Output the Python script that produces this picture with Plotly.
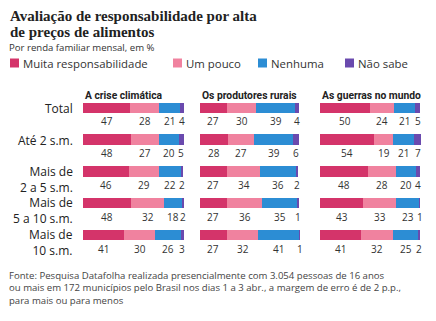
import plotly.graph_objects as go

W, H = 436, 321

rows = ["Total", "Até 2 s.m.", "Mais de<br>2 a 5 s.m.", "Mais de<br>5 a 10 s.m.", "Mais de<br>10 s.m."]
columns = ["A crise climática", "Os produtores rurais", "As guerras no mundo"]
categories = ["Muita responsabilidade", "Um pouco", "Nenhuma", "Não sabe"]
colors = ["#d4346a", "#f0829f", "#2c8dd4", "#6a4aae"]

crise_muita = [47, 48, 46, 48, 41]
crise_pouco = [28, 27, 29, 32, 30]
crise_nenhuma = [21, 20, 22, 18, 26]
crise_naosabe = [4, 5, 2, 2, 3]

prod_muita = [27, 28, 27, 27, 27]
prod_pouco = [30, 27, 34, 36, 32]
prod_nenhuma = [39, 39, 36, 35, 41]
prod_naosabe = [4, 6, 2, 1, 1]

guerra_muita = [50, 54, 48, 43, 41]
guerra_pouco = [24, 19, 28, 33, 32]
guerra_nenhuma = [21, 21, 20, 23, 25]
guerra_naosabe = [5, 7, 4, 1, 2]

col_data = [
    [crise_muita, crise_pouco, crise_nenhuma, crise_naosabe],
    [prod_muita, prod_pouco, prod_nenhuma, prod_naosabe],
    [guerra_muita, guerra_pouco, guerra_nenhuma, guerra_naosabe],
]


def px(x):
    return x / W


def py(y):
    return 1 - y / H


col_domains = [(83, 184), (200, 300), (320, 421)]
y_top, y_bot = 92.1, 250.9
row_idx = list(range(len(rows)))

fig = go.Figure()
xa_names = ["x", "x2", "x3"]
col_max = []
for c, series in enumerate(col_data):
    totals = [sum(s[r] for s in series) for r in row_idx]
    col_max.append(max(100, max(totals)))
    for k, vals in enumerate(series):
        fig.add_trace(go.Bar(
            x=vals, y=row_idx, orientation="h", name=categories[k],
            marker=dict(color=colors[k], line=dict(width=0)),
            width=0.33, xaxis=xa_names[c], yaxis="y", showlegend=False,
            hoverinfo="skip",
        ))

annotations = []
# value labels under bars
for c, series in enumerate(col_data):
    xref = xa_names[c]
    for r in row_idx:
        cum = 0
        for k, vals in enumerate(series):
            v = vals[r]
            annotations.append(dict(
                x=cum + v / 2, y=r, xref=xref, yref="y", text=str(v),
                showarrow=False, yshift=-13.5, xanchor="center", yanchor="middle",
                font=dict(family="Open Sans", size=10, color="#333333"),
            ))
            cum += v

# column headers
for c, name in enumerate(columns):
    annotations.append(dict(
        x=px(col_domains[c][0]), y=py(95.5), xref="paper", yref="paper",
        text="<b>" + name + "</b>", showarrow=False, xanchor="left", yanchor="middle",
        font=dict(family="Roboto", size=10.3, color="#222222"),
    ))

# row labels
for r, lab in enumerate(rows):
    if "<br>" in lab:
        annotations.append(dict(
            x=px(75), y=r, xref="paper", yref="y", text=lab, showarrow=False,
            xanchor="right", yanchor="top", align="right", yshift=11,
            font=dict(family="Open Sans", size=12, color="#222222"),
        ))
    else:
        annotations.append(dict(
            x=px(75), y=r, xref="paper", yref="y", text=lab, showarrow=False,
            xanchor="right", yanchor="middle", align="right", yshift=-1,
            font=dict(family="Open Sans", size=12, color="#222222"),
        ))

# title
annotations.append(dict(
    x=px(8), y=py(16), xref="paper", yref="paper",
    text="<b>Avaliação de responsabilidade por alta</b>", showarrow=False,
    xanchor="left", yanchor="middle",
    font=dict(family="Liberation Serif", size=15, color="#222222"),
))
annotations.append(dict(
    x=px(8), y=py(32), xref="paper", yref="paper",
    text="<b>de preços de alimentos</b>", showarrow=False,
    xanchor="left", yanchor="middle",
    font=dict(family="Liberation Serif", size=15, color="#222222"),
))
annotations.append(dict(
    x=px(7), y=py(47), xref="paper", yref="paper",
    text="Por renda familiar mensal, em %", showarrow=False,
    xanchor="left", yanchor="middle",
    font=dict(family="Open Sans", size=9.6, color="#333333"),
))

# legend
shapes = []
leg_sq = [10, 173, 258, 345]
for k, cat in enumerate(categories):
    shapes.append(dict(
        type="rect", xref="paper", yref="paper",
        x0=px(leg_sq[k]), x1=px(leg_sq[k] + 9), y0=py(67.5), y1=py(58.5),
        fillcolor=colors[k], line=dict(width=0),
    ))
    annotations.append(dict(
        x=px(leg_sq[k] + 11), y=py(63), xref="paper", yref="paper", text=cat,
        showarrow=False, xanchor="left", yanchor="middle",
        font=dict(family="Open Sans", size=11.4, color="#333333"),
    ))

# footer
annotations.append(dict(
    x=px(7), y=py(266.5), xref="paper", yref="paper",
    text=("Fonte: Pesquisa Datafolha realizada presencialmente com 3.054 pessoas de 16 anos<br>"
          "ou mais em 172 municípios pelo Brasil nos dias 1 a 3 abr., a margem de erro é de 2 p.p.,<br>"
          "para mais ou para menos"),
    showarrow=False, xanchor="left", yanchor="top", align="left",
    font=dict(family="Open Sans", size=9.6, color="#444444"),
))

axis_common = dict(showgrid=False, zeroline=False, showticklabels=False,
                   showline=False, ticks="", fixedrange=True)
fig.update_layout(
    width=W, height=H, margin=dict(l=0, r=0, t=0, b=0),
    paper_bgcolor="white", plot_bgcolor="white",
    barmode="stack", bargap=0,
    xaxis=dict(domain=[px(col_domains[0][0]), px(col_domains[0][1])], anchor="y",
               range=[0, col_max[0]], **axis_common),
    xaxis2=dict(domain=[px(col_domains[1][0]), px(col_domains[1][1])], anchor="y",
                range=[0, col_max[1]], **axis_common),
    xaxis3=dict(domain=[px(col_domains[2][0]), px(col_domains[2][1])], anchor="y",
                range=[0, col_max[2]], **axis_common),
    yaxis=dict(domain=[py(y_bot), py(y_top)], range=[len(rows) - 0.5, -0.5],
               showgrid=False, zeroline=False, showticklabels=False, showline=False,
               ticks="", fixedrange=True),
    annotations=annotations, shapes=shapes, showlegend=False,
)

fig.write_html("out.html")
